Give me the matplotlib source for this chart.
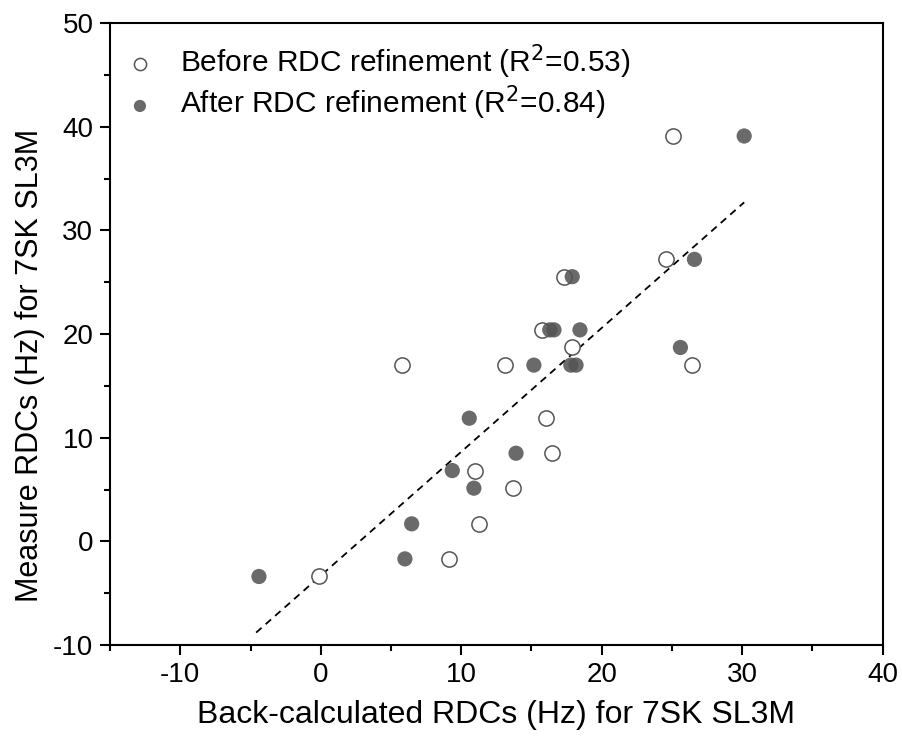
import matplotlib
matplotlib.use("Agg")
import matplotlib.pyplot as plt
from matplotlib.ticker import MultipleLocator

plt.rcParams['font.family'] = ['Liberation Sans', 'DejaVu Sans']
plt.rcParams['axes.unicode_minus'] = False

# Before RDC refinement (open circles)
before_x = [-0.13, 9.1, 11.28, 13.7, 10.98, 16.45, 16.0, 5.76, 13.1, 26.4, 17.9, 15.77, 17.33, 24.6, 25.04]
before_y = [-3.39, -1.69, 1.69, 5.13, 6.83, 8.5, 11.88, 17.0, 17.0, 17.0, 18.73, 20.4, 25.53, 27.2, 39.1]

# After RDC refinement (filled circles)
after_x = [-4.4, 5.99, 6.47, 10.9, 9.36, 13.9, 10.57, 15.17, 17.8, 18.17, 25.6, 16.3, 16.6, 18.45, 17.9, 26.6, 30.14]
after_y = [-3.39, -1.69, 1.69, 5.13, 6.83, 8.5, 11.88, 17.0, 17.0, 17.0, 18.7, 20.4, 20.4, 20.4, 25.53, 27.2, 39.1]

# Dashed fit line endpoints
fit_x = [-4.6, 30.14]
fit_y = [-8.8, 32.7]

labels = ["Before RDC refinement (R$^{2}$=0.53)", "After RDC refinement (R$^{2}$=0.84)"]

fig = plt.figure(figsize=(9.02, 7.42), dpi=100)
ax = fig.add_axes([0.122, 0.1307, 0.8566, 0.8383])

ax.plot(fit_x, fit_y, linestyle=(0, (4, 3)), color='black', lw=1.3, zorder=1)
ax.scatter(before_x, before_y, s=120, facecolors='white', edgecolors='#555555',
           linewidths=1.1, label=labels[0], zorder=2)
ax.scatter(after_x, after_y, s=120, facecolors='#555555', edgecolors='none',
           alpha=0.88, label=labels[1], zorder=3)

ax.set_xlim(-15, 40)
ax.set_ylim(-10, 50)
ax.xaxis.set_major_locator(MultipleLocator(10))
ax.xaxis.set_minor_locator(MultipleLocator(5))
ax.yaxis.set_major_locator(MultipleLocator(10))
ax.yaxis.set_minor_locator(MultipleLocator(5))
ax.tick_params(which='both', direction='out', top=False, right=False, width=1.5)
ax.tick_params(which='major', length=7, labelsize=20, pad=5)
ax.tick_params(which='minor', length=4)
for sp in ax.spines.values():
    sp.set_linewidth(1.5)

ax.set_xlabel("Back-calculated RDCs (Hz) for 7SK SL3M", fontsize=23, labelpad=9)
ax.set_ylabel("Measure RDCs (Hz) for 7SK SL3M", fontsize=22)
ax.yaxis.set_label_coords(-0.084, 0.45)

ax.legend(loc='upper left', frameon=False, fontsize=21.5, handletextpad=1.0,
          handlelength=0.7, borderaxespad=0.2, borderpad=0.45, labelspacing=0.1,
          markerscale=0.8)

fig.savefig("out.png", dpi=100)
